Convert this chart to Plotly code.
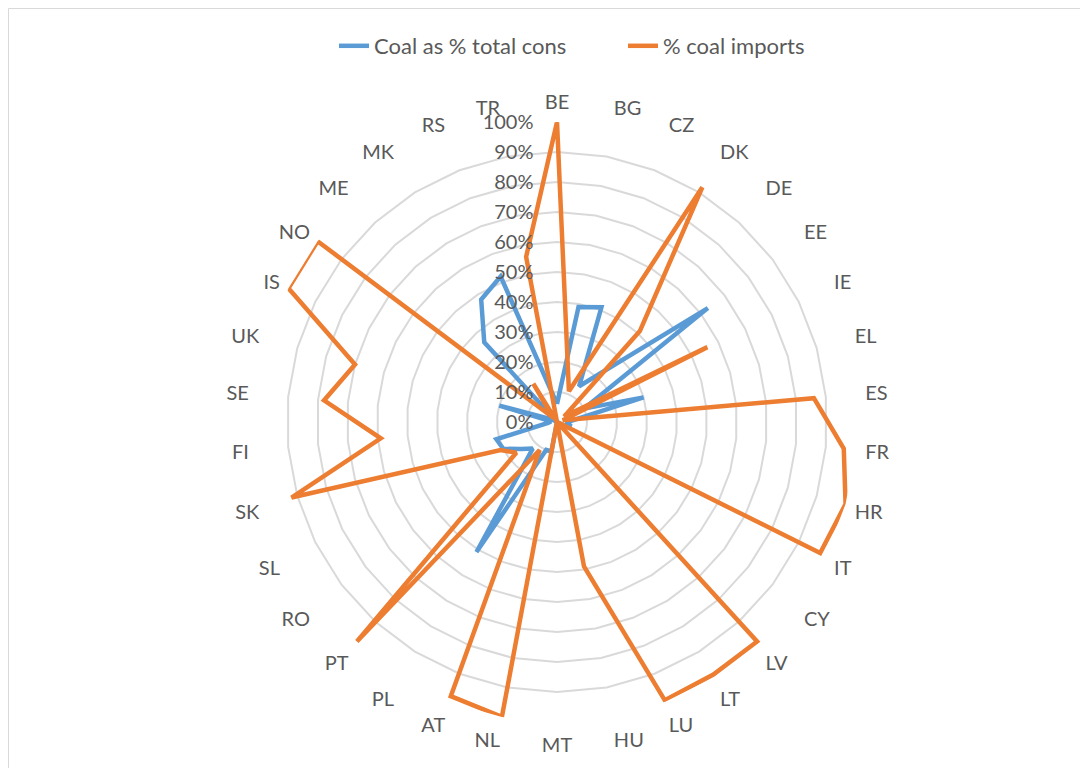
import plotly.graph_objects as go

categories = ["BE", "BG", "CZ", "DK", "DE", "EE", "IE", "EL", "ES", "FR", "HR", "IT",
              "CY", "LV", "LT", "LU", "HU", "MT", "NL", "AT", "PL", "PT", "RO", "SL",
              "SK", "FI", "SE", "UK", "IS", "NO", "ME", "MK", "RS", "TR"]

coal_share = [0.06, 0.39, 0.41, 0.14, None, 0.63, 0.10, 0.30, 0.05, 0.03, 0.05, 0.03,
              0.00, 0.02, 0.02, 0.01, 0.02, 0.00, 0.10, 0.10, 0.51, 0.12, 0.15, 0.20,
              0.21, 0.03, 0.02, 0.20, 0.02, 0.00, 0.36, 0.48, 0.52, None]

coal_imports = [1.00, None, 0.11, 0.92, 0.41, 0.03, 0.56, 0.02, 0.86, 0.96, 1.00, 0.98,
                0.00, 0.99, 0.99, 0.995, 0.49, 0.00, 1.00, 0.98, 0.11, 0.99, 0.17, 0.21,
                0.92, 0.59, 0.78, 0.70, 1.00, 1.00, 0.02, 0.15, 0.00, 0.56]

series_names = ["Coal as % total cons", "% coal imports"]
colors = ["#5B9BD5", "#ED7D31"]

fig = go.Figure()
for name, vals, col in zip(series_names, [coal_share, coal_imports], colors):
    r = list(vals) + [vals[0]]
    th = categories + [categories[0]]
    fig.add_trace(go.Scatterpolar(r=r, theta=th, mode="lines", name=name,
                                  connectgaps=True,
                                  line=dict(color=col, width=4.5)))

W, H = 1088, 768
OFF = 8  # page body margin
cx, cy, R = 557 - OFF, 422 - OFF, 300
fig.update_layout(
    width=W, height=H,
    margin=dict(l=0, r=0, t=0, b=0),
    paper_bgcolor="white",
    font=dict(family="Lato, Noto Sans, sans-serif", color="#595959", size=20),
    showlegend=True,
    legend=dict(orientation="h", x=(334 - OFF) / W, xanchor="left",
                y=1 - (46 - OFF) / H, yanchor="middle",
                entrywidth=244, entrywidthmode="pixels",
                font=dict(size=22, color="#595959")),
    polar=dict(
        domain=dict(x=[(cx - R) / W, (cx + R) / W], y=[1 - (cy + R) / H, 1 - (cy - R) / H]),
        bgcolor="white",
        gridshape="linear",
        angularaxis=dict(direction="clockwise", rotation=90, showgrid=False,
                         showline=False, ticks="outside", ticklen=5,
                         tickcolor="rgba(0,0,0,0)",
                         tickfont=dict(size=20, color="#595959"),
                         categoryorder="array", categoryarray=categories),
        radialaxis=dict(range=[0, 1], dtick=0.1, tickformat=".0%", angle=90,
                        showline=False, ticks="outside", ticklen=16,
                        tickcolor="rgba(0,0,0,0)", gridcolor="#D9D9D9", gridwidth=1.5,
                        tickfont=dict(size=20, color="#595959"), side="counterclockwise",
                        tickangle=90),
    ),
    shapes=[dict(type="rect", xref="paper", yref="paper", x0=0.5 / W, x1=1.2, y0=-0.2,
                 y1=1 - 0.5 / H, line=dict(color="#D9D9D9", width=1),
                 fillcolor="rgba(0,0,0,0)", layer="below")],
)

fig.write_html("out.html")
